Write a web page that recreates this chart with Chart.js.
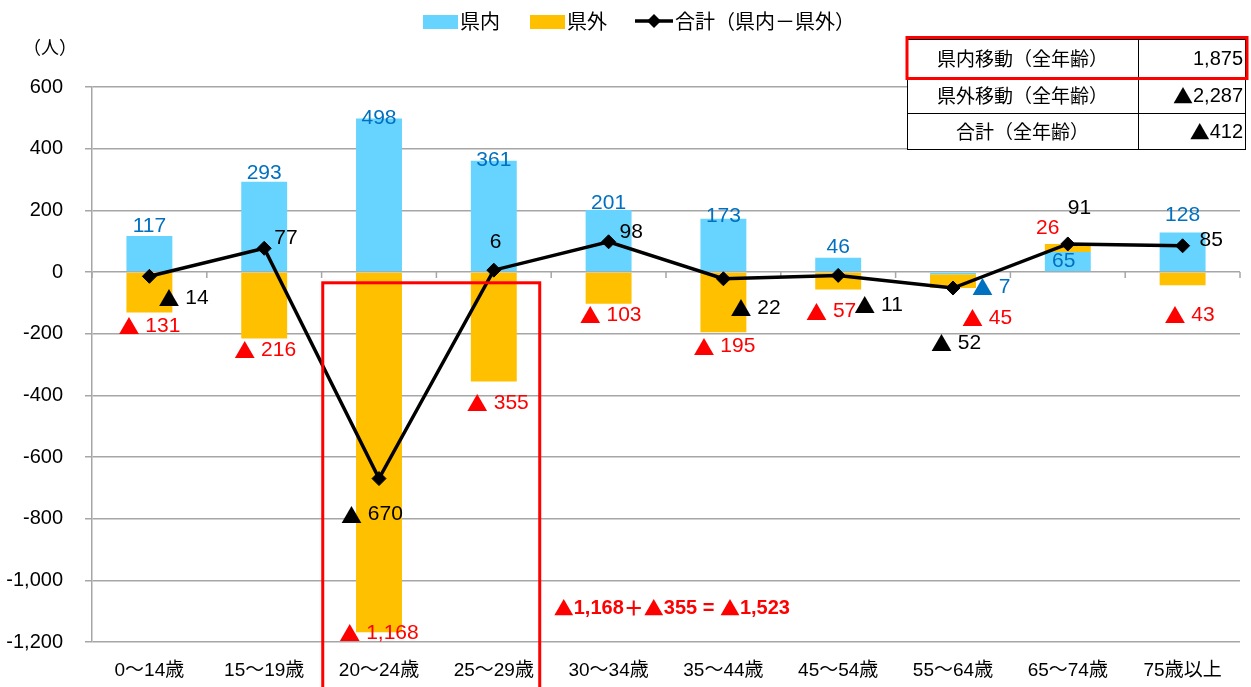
<!DOCTYPE html>
<html>
<head>
<meta charset="utf-8">
<script src="https://cdn.jsdelivr.net/npm/chart.js@4"></script>
<style>
  html, body { margin: 0; padding: 0; background: #fff; }
  #wrap { width: 1251px; height: 687px; }
</style>
</head>
<body>
<div id="wrap"><canvas id="c" width="1251" height="687"></canvas></div>
<script>
// ---- data ----
const categories = ['0～14歳','15～19歳','20～24歳','25～29歳','30～34歳','35～44歳','45～54歳','55～64歳','65～74歳','75歳以上'];
const inPref  = [117, 293, 498, 361, 201, 173, 46, -7, 65, 128];
const outPref = [-131, -216, -1168, -355, -103, -195, -57, -45, 26, -43];
const total   = [-14, 77, -670, 6, 98, -22, -11, -52, 91, 85];
const seriesNames = ['県内', '県外', '合計（県内－県外）'];
const yMin = -1200, yMax = 600, yStep = 200;
const yUnit = '（人）';
const tableLabels = ['県内移動（全年齢）', '県外移動（全年齢）', '合計（全年齢）'];
const tableValues = [1875, -2287, -412];
const highlightIdx = [2, 3];

// ---- styles ----
const FONT = "'Liberation Sans', 'Noto Sans CJK JP', sans-serif";
const CJK = "'Noto Sans CJK JP', 'Liberation Sans', sans-serif";
const C_IN = '#66D4FF', C_OUT = '#FFC000', C_BLUE = '#0070C0', C_RED = '#FF0000', C_GRID = '#A6A6A6';

function fmt(v, sp) {
  const s = Math.abs(v).toLocaleString('en-US');
  return v < 0 ? '▲' + (sp ? ' ' : '') + s : s;
}

// draw text where ▲ and full-width chars use the CJK font, the rest the Latin font
function drawRich(ctx, text, x, y, align, size, weight) {
  const w = weight ? weight + ' ' : '';
  const segs = [];
  for (const ch of text) {
    const cjk = ch === '▲' || ch.charCodeAt(0) > 0x2E80;
    const f = w + size + 'px ' + (cjk ? CJK : FONT);
    if (segs.length && segs[segs.length - 1].f === f) segs[segs.length - 1].t += ch;
    else segs.push({ t: ch, f });
  }
  let total = 0;
  for (const s of segs) { ctx.font = s.f; s.w = ctx.measureText(s.t).width; total += s.w; }
  let sx = align === 'center' ? x - total / 2 : align === 'right' ? x - total : x;
  const prevAlign = ctx.textAlign;
  ctx.textAlign = 'left';
  ctx.textBaseline = 'middle';
  for (const s of segs) { ctx.font = s.f; ctx.fillText(s.t, sx, y); sx += s.w; }
  ctx.textAlign = prevAlign;
}

// label placement nudges (pixels relative to the mark)
const nudgeIn  = [{dy:-10},{dy:-8},{dy:0},{dy:0},{dy:-7},{dy:-2},{dy:-11},{dx:19,dy:13,align:'left'},{dx:-4,inside:true},{dy:-17}];
const nudgeOut = [{dy:14},{dx:1,dy:11.5},{dy:1},{dx:4,dy:21.5},{dx:2,dy:11},{dx:1,dy:14.5},{dx:-7,dy:22},{dx:34,dy:30},{dx:-20,dy:-16},{dx:7,dy:30}];
const nudgeTot = [{dx:9,dy:22},{dx:10,dy:-10},{dx:-38,dy:36},{dx:-4,dy:-28},{dx:11,dy:-10},{dx:7,dy:29},{dx:16,dy:30},{dx:-22,dy:55},{dx:0,dy:-36},{dx:17,dy:-6}];

const LBL = 21;

const overlay = {
  id: 'overlay',
  beforeDatasetsDraw(chart) {
    const ctx = chart.ctx, y = chart.scales.y;
    const n = categories.length, ca = chart.chartArea;
    const cw = (ca.right - ca.left) / n;
    const y0 = y.getPixelForValue(0);
    ctx.save();
    ctx.strokeStyle = C_GRID; ctx.lineWidth = 1.5;
    for (let i = 0; i <= n; i++) {
      const px = ca.left + i * cw;
      ctx.beginPath(); ctx.moveTo(px, y0); ctx.lineTo(px, y0 + 6); ctx.stroke();
    }
    ctx.restore();
  },
  afterDatasetsDraw(chart) {
    const ctx = chart.ctx;
    ctx.save();
    const mIn = chart.getDatasetMeta(0), mOut = chart.getDatasetMeta(1), mTot = chart.getDatasetMeta(2);
    for (let i = 0; i < categories.length; i++) {
      // 県内
      let el = mIn.data[i], nd = nudgeIn[i], v = inPref[i];
      ctx.fillStyle = C_BLUE;
      let ty = nd.inside ? (el.y + el.base) / 2 : el.y + (nd.dy || 0);
      drawRich(ctx, fmt(v, true), el.x + (nd.dx || 0), ty, nd.align || 'center', LBL);
      // 県外
      el = mOut.data[i]; nd = nudgeOut[i]; v = outPref[i];
      ctx.fillStyle = C_RED;
      drawRich(ctx, fmt(v, true), el.x + (nd.dx || 0), el.y + (nd.dy || 0), 'center', LBL);
      // 合計
      el = mTot.data[i]; nd = nudgeTot[i]; v = total[i];
      ctx.fillStyle = '#000';
      drawRich(ctx, fmt(v, true), el.x + (nd.dx || 0), el.y + (nd.dy || 0), 'left', LBL);
    }
    ctx.restore();
  },
  afterDraw(chart) {
    const ctx = chart.ctx, x = chart.scales.x, y = chart.scales.y;
    const n = categories.length, ca = chart.chartArea;
    const cw = (ca.right - ca.left) / n;
    ctx.save();
    // highlight box around 20-29
    const rl = x.getPixelForValue(highlightIdx[0]) - 0.49 * cw;
    const rr = x.getPixelForValue(highlightIdx[1]) + 0.40 * cw;
    const rt = y.getPixelForValue(-35);
    ctx.strokeStyle = C_RED; ctx.lineWidth = 3;
    ctx.strokeRect(rl, rt, rr - rl, chart.height + 10 - rt);
    // annotation
    const a = outPref[highlightIdx[0]], b = outPref[highlightIdx[1]];
    ctx.fillStyle = C_RED;
    drawRich(ctx, fmt(a) + '＋' + fmt(b) + ' = ' + fmt(a + b), rr + 14, y.getPixelForValue(-1090), 'left', 20, 'bold');

    // y unit
    ctx.fillStyle = '#000';
    ctx.font = '18px ' + CJK;
    ctx.textAlign = 'center'; ctx.textBaseline = 'middle';
    ctx.fillText(yUnit, 50, 47);

    // legend
    ctx.font = '20px ' + CJK;
    ctx.textAlign = 'left';
    const ly = 21;
    ctx.fillStyle = C_IN; ctx.fillRect(423, 15, 35, 14);
    ctx.fillStyle = '#000'; ctx.fillText(seriesNames[0], 460, ly);
    ctx.fillStyle = C_OUT; ctx.fillRect(530, 15, 35, 14);
    ctx.fillStyle = '#000'; ctx.fillText(seriesNames[1], 567, ly);
    ctx.strokeStyle = '#000'; ctx.lineWidth = 3.5;
    ctx.beginPath(); ctx.moveTo(635, ly); ctx.lineTo(673, ly); ctx.stroke();
    ctx.beginPath(); ctx.moveTo(654, ly - 7); ctx.lineTo(661, ly); ctx.lineTo(654, ly + 7); ctx.lineTo(647, ly); ctx.closePath(); ctx.fill();
    ctx.fillText(seriesNames[2], 675, ly);

    // table
    const tx0 = 907, tx1 = 1138, tx2 = 1245;
    const rows = [39, 77, 113, 149];
    ctx.fillStyle = '#fff';
    ctx.fillRect(tx0, rows[0], tx2 - tx0, rows[3] - rows[0]);
    ctx.strokeStyle = '#000'; ctx.lineWidth = 1;
    ctx.strokeRect(tx0 + 0.5, rows[0] + 0.5, tx2 - tx0, rows[3] - rows[0]);
    for (let r = 1; r < 3; r++) { ctx.beginPath(); ctx.moveTo(tx0, rows[r] + 0.5); ctx.lineTo(tx2, rows[r] + 0.5); ctx.stroke(); }
    ctx.beginPath(); ctx.moveTo(tx1 + 0.5, rows[0]); ctx.lineTo(tx1 + 0.5, rows[3]); ctx.stroke();
    for (let r = 0; r < 3; r++) {
      const cy = (rows[r] + rows[r + 1]) / 2 + 1;
      ctx.fillStyle = '#000';
      ctx.font = '19px ' + CJK; ctx.textAlign = 'center'; ctx.textBaseline = 'middle';
      ctx.fillText(tableLabels[r], (tx0 + tx1) / 2, cy);
      drawRich(ctx, fmt(tableValues[r]), tx2 - 2, cy, 'right', 20);
    }
    ctx.strokeStyle = C_RED; ctx.lineWidth = 3;
    ctx.strokeRect(907, 37.5, 340, 41);
    ctx.restore();
  }
};

new Chart(document.getElementById('c'), {
  type: 'bar',
  data: {
    labels: categories,
    datasets: [
      { label: seriesNames[0], data: inPref, backgroundColor: C_IN, stack: 's', order: 1 },
      { label: seriesNames[1], data: outPref, backgroundColor: C_OUT, stack: 's', order: 1 },
      { type: 'line', label: seriesNames[2], data: total, stack: 't', order: 0,
        borderColor: '#000', backgroundColor: '#000', borderWidth: 3.5, tension: 0,
        pointStyle: 'rectRot', pointRadius: 7, pointHoverRadius: 7,
        pointBackgroundColor: '#000', pointBorderColor: '#000', pointBorderWidth: 1 }
    ]
  },
  options: {
    responsive: false,
    animation: false,
    devicePixelRatio: 1,
    layout: { padding: { top: 87, right: 11, left: 0, bottom: 0 } },
    datasets: { bar: { barPercentage: 0.4, categoryPercentage: 1.0 } },
    plugins: { legend: { display: false }, tooltip: { enabled: false } },
    scales: {
      x: {
        stacked: true,
        grid: { display: false, drawTicks: false },
        border: { display: false },
        ticks: { font: { family: FONT, size: 19 }, color: '#000', padding: 17, maxRotation: 0, autoSkip: false },
        afterFit: s => { s.height = 45; }
      },
      y: {
        stacked: true,
        min: yMin, max: yMax,
        ticks: { stepSize: yStep, font: { family: FONT, size: 20 }, color: '#000', padding: 22,
                 callback: v => v.toLocaleString('en-US') },
        grid: { color: C_GRID, lineWidth: 1.5, tickLength: 7, tickColor: C_GRID, drawTicks: true },
        border: { display: true, color: C_GRID, width: 1.5 },
        afterFit: s => { s.width = 92; }
      }
    }
  },
  plugins: [overlay]
});
</script>
</body>
</html>
